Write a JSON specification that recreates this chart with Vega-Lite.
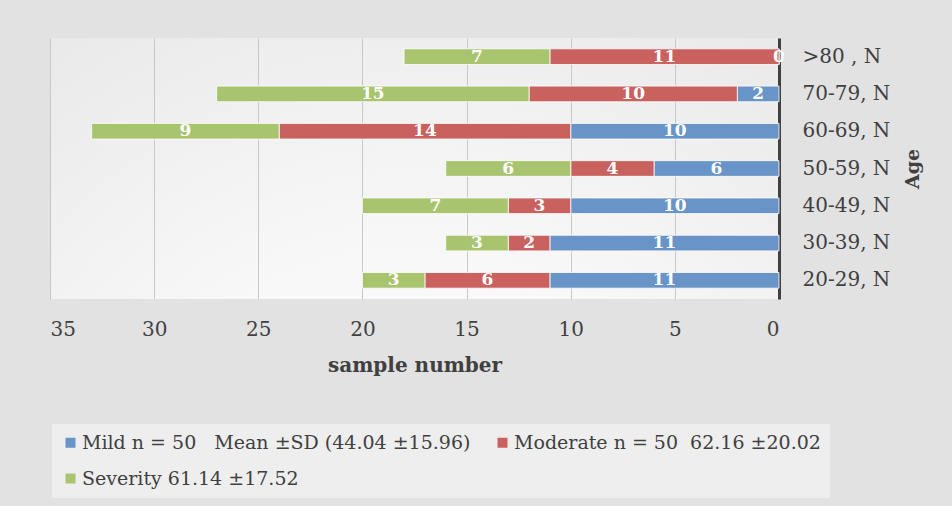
{
  "$schema": "https://vega.github.io/schema/vega-lite/v6.json",
  "width": 729,
  "height": 261,
  "autosize": {"type": "none"},
  "padding": {"left": 50, "top": 38, "right": 173, "bottom": 207},
  "background": "#e2e2e2",
  "config": {
    "font": "DejaVu Serif",
    "view": {
      "stroke": null,
      "fill": {
        "gradient": "radial",
        "x1": 0.5, "y1": 1.05, "x2": 0.5, "y2": 1.05, "r1": 0, "r2": 1.1,
        "stops": [
          {"offset": 0, "color": "#ffffff"},
          {"offset": 0.4, "color": "#f8f8f8"},
          {"offset": 1, "color": "#e2e2e2"}
        ]
      }
    }
  },
  "data": {
    "values": [
      {"age": ">80 , N", "group": "Mild n = 50\u00a0\u00a0 Mean ±SD (44.04 ±15.96)", "n": 0},
      {"age": ">80 , N", "group": "Moderate n = 50\u00a0 62.16 ±20.02", "n": 11},
      {"age": ">80 , N", "group": "Severity 61.14 ±17.52", "n": 7},
      {"age": "70-79, N", "group": "Mild n = 50\u00a0\u00a0 Mean ±SD (44.04 ±15.96)", "n": 2},
      {"age": "70-79, N", "group": "Moderate n = 50\u00a0 62.16 ±20.02", "n": 10},
      {"age": "70-79, N", "group": "Severity 61.14 ±17.52", "n": 15},
      {"age": "60-69, N", "group": "Mild n = 50\u00a0\u00a0 Mean ±SD (44.04 ±15.96)", "n": 10},
      {"age": "60-69, N", "group": "Moderate n = 50\u00a0 62.16 ±20.02", "n": 14},
      {"age": "60-69, N", "group": "Severity 61.14 ±17.52", "n": 9},
      {"age": "50-59, N", "group": "Mild n = 50\u00a0\u00a0 Mean ±SD (44.04 ±15.96)", "n": 6},
      {"age": "50-59, N", "group": "Moderate n = 50\u00a0 62.16 ±20.02", "n": 4},
      {"age": "50-59, N", "group": "Severity 61.14 ±17.52", "n": 6},
      {"age": "40-49, N", "group": "Mild n = 50\u00a0\u00a0 Mean ±SD (44.04 ±15.96)", "n": 10},
      {"age": "40-49, N", "group": "Moderate n = 50\u00a0 62.16 ±20.02", "n": 3},
      {"age": "40-49, N", "group": "Severity 61.14 ±17.52", "n": 7},
      {"age": "30-39, N", "group": "Mild n = 50\u00a0\u00a0 Mean ±SD (44.04 ±15.96)", "n": 11},
      {"age": "30-39, N", "group": "Moderate n = 50\u00a0 62.16 ±20.02", "n": 2},
      {"age": "30-39, N", "group": "Severity 61.14 ±17.52", "n": 3},
      {"age": "20-29, N", "group": "Mild n = 50\u00a0\u00a0 Mean ±SD (44.04 ±15.96)", "n": 11},
      {"age": "20-29, N", "group": "Moderate n = 50\u00a0 62.16 ±20.02", "n": 6},
      {"age": "20-29, N", "group": "Severity 61.14 ±17.52", "n": 3}
    ]
  },
  "encoding": {
    "y": {
      "field": "age",
      "type": "nominal",
      "sort": [">80 , N", "70-79, N", "60-69, N", "50-59, N", "40-49, N", "30-39, N", "20-29, N"],
      "scale": {"paddingInner": 0.58, "paddingOuter": 0.29},
      "axis": {
        "orient": "right",
        "title": "Age",
        "titleAngle": 270,
        "titleBaseline": "top",
        "titleFontSize": 19,
        "titleFontWeight": "bold",
        "titleColor": "#404040",
        "titlePadding": 14,
        "labelFontSize": 20,
        "labelColor": "#404040",
        "labelPadding": 23,
        "labelAlign": "left",
        "ticks": false,
        "tickSize": 0,
        "domainColor": "#404040",
        "domainWidth": 3
      }
    }
  },
  "layer": [
    {
      "mark": {"type": "bar", "stroke": "#ffffff", "strokeWidth": 1, "strokeOpacity": 0.8},
      "encoding": {
        "x": {
          "field": "n",
          "type": "quantitative",
          "stack": "zero",
          "title": "sample number",
          "scale": {"domain": [0, 35], "reverse": true, "nice": false},
          "axis": {
            "values": [0, 5, 10, 15, 20, 25, 30, 35],
            "domain": false,
            "ticks": false,
            "tickSize": 0,
            "labelPadding": 20,
            "labelFontSize": 20,
            "labelColor": "#404040",
            "titleFontSize": 20,
            "titleFontWeight": "bold",
            "titleColor": "#404040",
            "titlePadding": 16,
            "grid": true,
            "gridColor": "#c8c8c8"
          }
        },
        "color": {
          "field": "group",
          "type": "nominal",
          "scale": {
            "domain": ["Mild n = 50\u00a0\u00a0 Mean ±SD (44.04 ±15.96)", "Moderate n = 50\u00a0 62.16 ±20.02", "Severity 61.14 ±17.52"],
            "range": ["#6994c7", "#c9625f", "#a9c46f"]
          },
          "legend": {
            "orient": "none",
            "legendX": 2,
            "legendY": 386,
            "direction": "horizontal",
            "columns": 2,
            "title": null,
            "symbolType": "square",
            "symbolSize": 100,
            "symbolStrokeWidth": 0,
            "labelFontSize": 19,
            "labelColor": "#404040",
            "labelOffset": 2,
            "labelLimit": 1000,
            "columnPadding": 22,
            "rowPadding": 16,
            "padding": 9,
            "fillColor": "#eeeeee"
          }
        },
        "order": {"field": "group", "sort": "ascending"}
      }
    },
    {
      "mark": {"type": "text", "color": "#ffffff", "fontSize": 17, "fontWeight": "bold", "align": "center", "baseline": "middle"},
      "encoding": {
        "x": {"field": "n", "type": "quantitative", "stack": "zero", "bandPosition": 0.5, "title": "sample number"},
        "detail": {"field": "group"},
        "order": {"field": "group", "sort": "ascending"},
        "text": {"field": "n", "type": "quantitative"}
      }
    }
  ]
}
